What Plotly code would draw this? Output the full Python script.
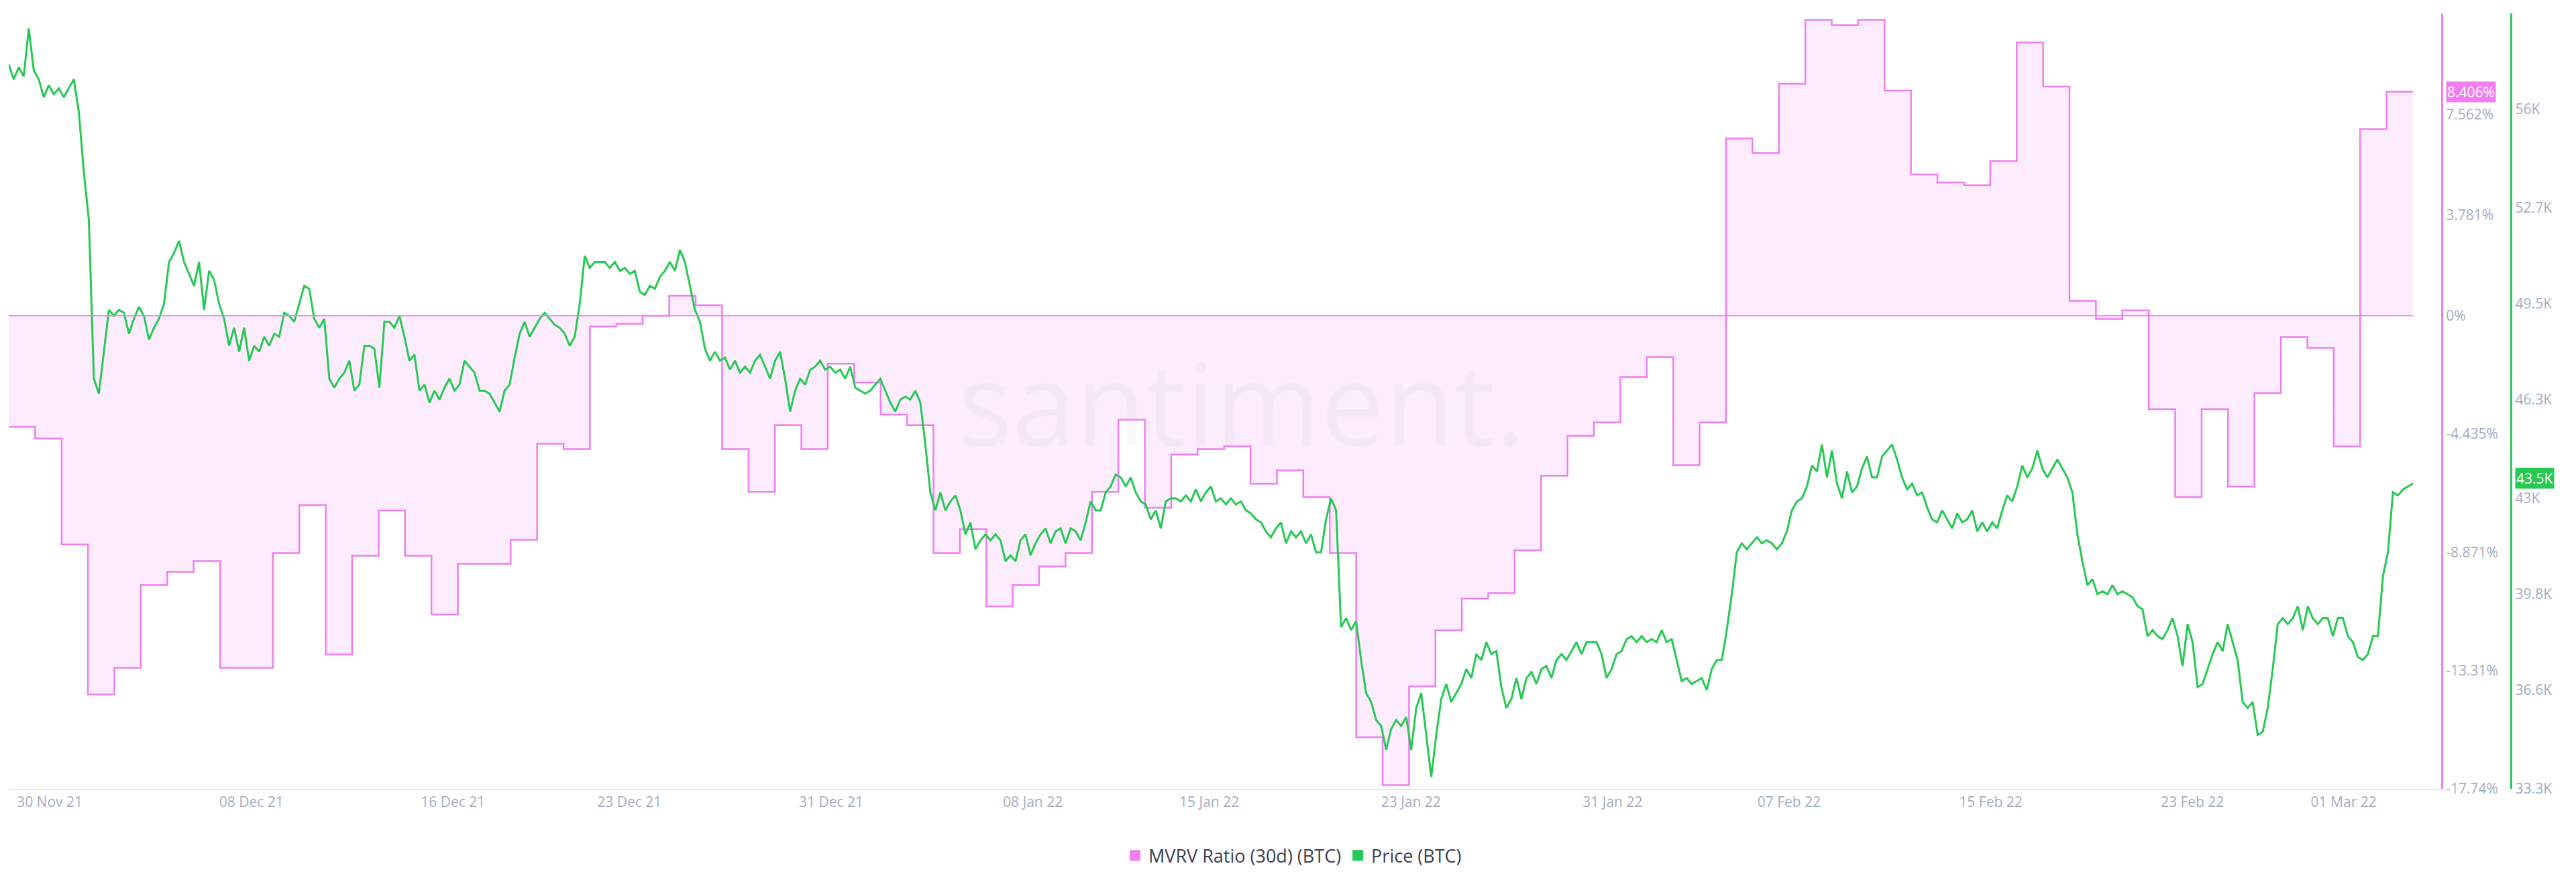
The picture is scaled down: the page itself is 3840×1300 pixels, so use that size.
import pandas as pd
import plotly.graph_objects as go

mvrv_values = [-4.16, -4.6, -8.58, -14.2, -13.2, -10.1, -9.6, -9.2, -13.2, -13.2, -8.9, -7.1, -12.7, -9.0, -7.3, -9.0,
               -11.2, -9.3, -9.3, -8.4, -4.8, -5.0, -0.4, -0.3, 0.0, 0.75, 0.4, -5.0, -6.6, -4.1, -5.0, -1.8,
               -2.5, -3.7, -4.1, -8.9, -8.0, -10.9, -10.1, -9.4, -8.9, -6.6, -3.9, -7.2, -5.2, -5.0, -4.9, -6.3,
               -5.8, -6.8, -8.9, -15.8, -17.6, -13.9, -11.8, -10.6, -10.4, -8.8, -6.0, -4.5, -4.0, -2.3, -1.55,
               -5.6, -4.0, 6.65, 6.1, 8.7, 11.1, 10.9, 11.1, 8.45, 5.3, 5.0, 4.9, 5.8, 10.25, 8.6, 0.56, -0.12,
               0.2, -3.5, -6.8, -3.5, -6.4, -2.9, -0.8, -1.2, -4.9, 7.0, 8.406]

price_values = [57.5, 57.0, 57.4, 57.1, 58.7, 57.3, 57.0, 56.4, 56.8, 56.5, 56.7, 56.4, 56.7, 57.0, 55.9, 53.9, 52.3,
                47.0, 46.5, 47.9, 49.3, 49.1, 49.3, 49.2, 48.5, 49.0, 49.4, 49.1, 48.3, 48.7, 49.0, 49.5, 50.9,
                51.2, 51.6, 50.9, 50.5, 50.1, 50.9, 49.3, 50.6, 50.3, 49.5, 49.0, 48.1, 48.7, 47.9, 48.7, 47.6,
                48.1, 47.9, 48.4, 48.1, 48.5, 48.4, 49.2, 49.1, 48.9, 49.5, 50.1, 50.0, 49.0, 48.7, 49.0, 47.0,
                46.7, 47.0, 47.2, 47.6, 46.6, 46.8, 48.1, 48.1, 48.0, 46.7, 48.9, 48.9, 48.7, 49.1, 48.4, 47.6,
                47.8, 46.6, 46.8, 46.2, 46.6, 46.3, 46.7, 47.0, 46.6, 46.8, 47.6, 47.4, 47.2, 46.6, 46.6, 46.5,
                46.2, 45.9, 46.6, 46.8, 47.7, 48.5, 48.9, 48.4, 48.7, 49.0, 49.2, 49.0, 48.8, 48.7, 48.5, 48.1,
                48.4, 49.5, 51.1, 50.7, 50.9, 50.9, 50.9, 50.7, 50.9, 50.6, 50.7, 50.5, 50.6, 49.9, 49.8, 50.1,
                50.0, 50.4, 50.6, 50.9, 50.6, 51.3, 50.9, 50.1, 49.3, 48.9, 48.0, 47.6, 47.9, 47.6, 47.7, 47.3,
                47.6, 47.2, 47.4, 47.2, 47.6, 47.8, 47.4, 47.0, 47.6, 47.9, 47.0, 45.9, 46.6, 47.0, 46.8, 47.3,
                47.4, 47.6, 47.3, 47.4, 47.2, 47.3, 47.0, 47.4, 46.7, 46.6, 46.5, 46.6, 46.8, 47.0, 46.6, 46.2,
                45.9, 46.3, 46.4, 46.3, 46.6, 46.2, 44.8, 43.2, 42.6, 43.2, 42.6, 42.9, 43.1, 42.6, 41.8, 42.2,
                41.3, 41.6, 41.8, 41.6, 41.8, 41.6, 40.9, 41.1, 40.9, 41.6, 41.8, 41.1, 41.5, 41.8, 42.0, 41.5,
                41.9, 42.0, 41.5, 42.0, 41.9, 41.6, 42.2, 42.9, 42.6, 42.6, 43.2, 43.4, 43.8, 43.7, 43.4, 43.7,
                43.2, 42.9, 42.8, 42.3, 42.6, 42.0, 42.9, 43.0, 43.0, 42.9, 43.1, 42.9, 43.3, 42.9, 43.2, 43.4,
                42.9, 43.0, 42.8, 43.0, 42.8, 42.9, 42.6, 42.5, 42.3, 42.2, 41.9, 41.7, 42.0, 42.2, 41.5, 41.9,
                41.7, 41.9, 41.5, 41.8, 41.2, 41.2, 42.3, 43.0, 42.6, 38.7, 39.0, 38.6, 38.9, 37.6, 36.5, 36.2,
                35.6, 35.4, 34.6, 35.3, 35.6, 35.4, 35.7, 34.6, 36.0, 36.5, 35.1, 33.7, 35.1, 36.3, 36.8, 36.2,
                36.5, 36.8, 37.3, 37.0, 37.8, 37.6, 38.2, 37.8, 37.9, 36.7, 36.0, 36.3, 37.0, 36.3, 37.0, 37.2,
                36.8, 37.3, 37.4, 37.0, 37.6, 37.8, 37.6, 37.9, 38.2, 37.8, 38.2, 38.2, 38.2, 37.8, 37.0, 37.3,
                37.8, 37.9, 38.3, 38.4, 38.2, 38.4, 38.2, 38.3, 38.2, 38.6, 38.2, 38.3, 37.6, 36.9, 37.0, 36.8,
                36.9, 37.0, 36.6, 37.3, 37.6, 37.6, 38.6, 39.8, 41.2, 41.5, 41.3, 41.5, 41.7, 41.5, 41.6, 41.5,
                41.3, 41.5, 41.9, 42.6, 42.9, 43.0, 43.4, 44.1, 43.9, 44.8, 43.7, 44.6, 43.5, 43.0, 43.9, 43.2,
                43.4, 44.0, 44.4, 43.7, 43.7, 44.4, 44.6, 44.8, 44.3, 43.7, 43.3, 43.5, 43.1, 43.2, 42.7, 42.3,
                42.2, 42.6, 42.3, 42.0, 42.5, 42.2, 42.3, 42.6, 41.9, 42.2, 41.9, 42.2, 42.0, 42.6, 43.1, 42.9,
                43.4, 44.1, 43.7, 44.0, 44.6, 44.0, 43.7, 44.0, 44.3, 44.0, 43.7, 43.2, 41.8, 40.9, 40.1, 40.3,
                39.8, 39.9, 39.8, 40.1, 39.8, 39.9, 39.8, 39.7, 39.4, 39.3, 38.4, 38.6, 38.4, 38.3, 38.6, 39.0,
                38.4, 37.4, 38.8, 38.2, 36.7, 36.8, 37.3, 37.8, 38.2, 37.9, 38.8, 38.2, 37.6, 36.2, 36.0, 36.2,
                35.1, 35.2, 36.0, 37.3, 38.8, 39.0, 38.8, 39.0, 39.4, 38.6, 39.4, 39.0, 38.8, 39.0, 39.0, 38.4,
                39.0, 39.0, 38.4, 38.2, 37.7, 37.6, 37.8, 38.4, 38.4, 40.4, 41.2, 43.2, 43.1, 43.3, 43.4, 43.5]
price_values = [v * 1000 for v in price_values]

start, end = pd.Timestamp("2021-11-28 09:00"), pd.Timestamp("2022-03-03 18:00")
# each MVRV value holds for one step; the final step ends at `end`
mvrv_dates = pd.date_range(start, end, periods=len(mvrv_values) + 1)
price_dates = pd.date_range(start, end, periods=len(price_values))

mvrv_ticks = [-17.74, -13.31, -8.871, -4.435, 0, 3.781, 7.562, 11.34]
mvrv_tick_text = ["-17.74%", "-13.31%", "-8.871%", "-4.435%", "0%", "3.781%", "7.562%", "11.34%"]
price_ticks = [33300, 36600, 39800, 43000, 46300, 49500, 52700, 56000, 59200]
price_tick_text = ["33.3K", "36.6K", "39.8K", "43K", "46.3K", "49.5K", "52.7K", "56K", "59.2K"]
date_ticks = ["2021-11-30", "2021-12-08", "2021-12-16", "2021-12-23", "2021-12-31", "2022-01-08", "2022-01-15",
              "2022-01-23", "2022-01-31", "2022-02-07", "2022-02-15", "2022-02-23", "2022-03-01"]

PINK = "#f07ef0"
GREEN = "#26c953"
TICK = "#a4acc4"

fig = go.Figure()
fig.add_trace(go.Scatter(x=list(mvrv_dates), y=mvrv_values + [mvrv_values[-1]], mode="lines",
                         line=dict(color=PINK, width=2.5, shape="hv"),
                         fill="tozeroy", fillcolor="rgba(240,126,240,0.15)", yaxis="y", showlegend=False))
fig.add_trace(go.Scatter(x=price_dates, y=price_values, mode="lines", line=dict(color=GREEN, width=3),
                         yaxis="y2", showlegend=False))
fig.add_trace(go.Scatter(x=[None], y=[None], mode="markers", name="MVRV Ratio (30d) (BTC)",
                         marker=dict(symbol="square", size=18, color=PINK)))
fig.add_trace(go.Scatter(x=[None], y=[None], mode="markers", name="Price (BTC)", yaxis="y2",
                         marker=dict(symbol="square", size=18, color=GREEN)))

fig.add_shape(type="line", xref="x", yref="y", x0=start, x1=end, y0=0, y1=0, line=dict(color=PINK, width=1.5))

span = end - start
fig.update_layout(
    width=3840, height=1300, paper_bgcolor="white", plot_bgcolor="white",
    margin=dict(l=5, r=5, t=12, b=132),
    font=dict(family="Open Sans", size=21, color=TICK),
    xaxis=dict(domain=[0, 0.947], range=[start, start + span * 1.012], tickvals=date_ticks,
               tickformat="%d %b %y", showgrid=False, showline=True, linecolor="#e6e8f0", linewidth=2,
               tickfont=dict(size=21, color=TICK), zeroline=False, ticks=""),
    yaxis=dict(side="right", anchor="free", position=0.947, range=[-17.74, 11.34], tickvals=mvrv_ticks,
               ticktext=mvrv_tick_text, showgrid=False, zeroline=False, showline=True, linecolor=PINK,
               linewidth=3, tickfont=dict(size=21, color=TICK)),
    yaxis2=dict(side="right", anchor="free", position=0.974, overlaying="y", range=[33300, 59200],
                tickvals=price_ticks, ticktext=price_tick_text, showgrid=False, zeroline=False, showline=True,
                linecolor=GREEN, linewidth=3, tickfont=dict(size=21, color=TICK)),
    legend=dict(orientation="h", x=0.5, xanchor="center", y=-0.065, yanchor="top",
                font=dict(size=27, color="#3a3f52")),
    annotations=[
        dict(text="santiment.", xref="paper", yref="paper", x=0.48, y=0.5, showarrow=False,
             font=dict(size=170, color="rgba(200,200,215,0.12)", family="Open Sans")),
        dict(text="8.406%", xref="paper", yref="y", x=0.9485, y=mvrv_values[-1], xanchor="left", showarrow=False,
             bgcolor=PINK, font=dict(size=21, color="white")),
        dict(text="43.5K", xref="paper", yref="y2", x=0.9755, y=price_values[-1], xanchor="left", showarrow=False,
             bgcolor=GREEN, font=dict(size=21, color="white"), yshift=8),
    ],
)
fig.write_html("out.html")
